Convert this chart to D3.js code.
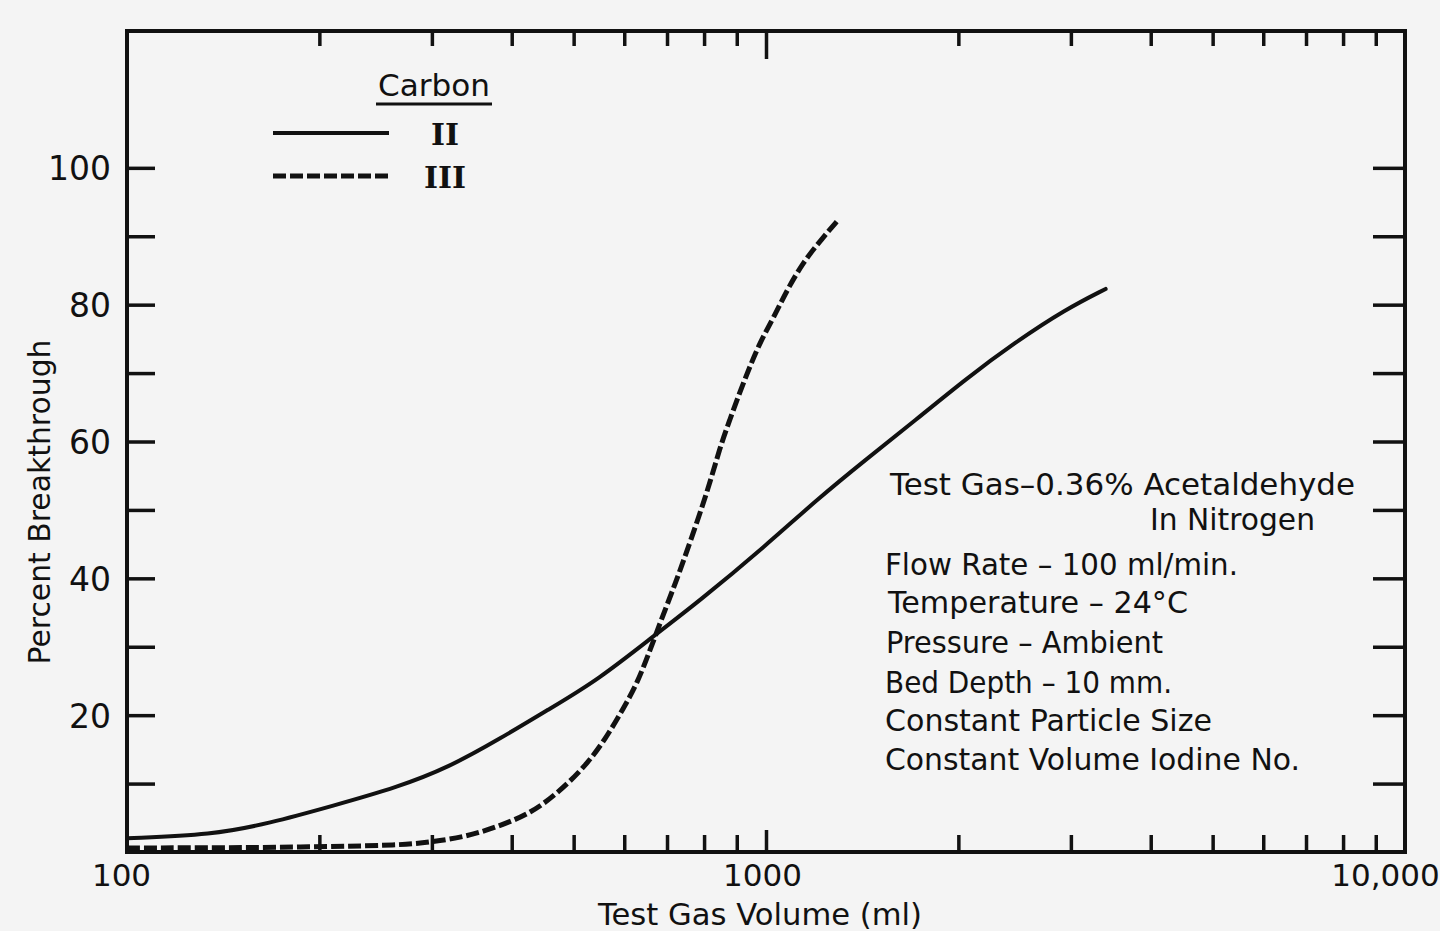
<!DOCTYPE html>
<html>
<head>
<meta charset="utf-8">
<script src="https://cdn.jsdelivr.net/npm/d3@7"></script>
<style>
  body { margin: 0; background: #f4f4f4; }
  svg { display: block; }
  text { font-family: "DejaVu Sans", sans-serif; fill: #111; }
</style>
</head>
<body>
<svg id="chart" width="1440" height="931"></svg>
<script>
// carbon II (solid) and carbon III (dashed)
var volumeII = [100, 136, 167, 209, 266, 319, 381, 456, 545, 676, 780, 1000, 1201, 1435, 1718, 2051, 2455, 2940, 3400];
var breakII = [2.0, 2.5, 4.2, 6.7, 9.5, 12.4, 16.4, 20.8, 25.1, 32.0, 36.4, 44.8, 51.5, 57.4, 63.2, 69.1, 74.5, 79.3, 82.3];

var volumeIII = [100, 130, 186, 273, 300, 338, 381, 429, 472, 520, 560, 600, 629, 659, 683, 718, 744, 809, 848, 878, 910, 944, 979, 1030, 1081, 1144, 1210, 1300];
var breakIII = [0.6, 0.6, 0.7, 1.0, 1.5, 2.2, 3.7, 5.7, 8.6, 12.4, 16.4, 21.2, 24.7, 29.6, 33.5, 38.8, 42.7, 52.5, 59.3, 63.2, 67.2, 71.0, 74.5, 78.3, 82.3, 86.2, 89.1, 92.5];

var xMinorTicks = [200, 300, 400, 500, 600, 700, 800, 900, 1000, 2000, 3000, 4000, 5000, 6000, 7000, 8000, 9000];
var xLabelTicks = [100, 1000, 10000];
var xLabelText = ["100", "1000", "10,000"];
var yTicks = [10, 20, 30, 40, 50, 60, 70, 80, 90, 100];

var legendNames = ["II", "III"];

var notes = [
  "Test Gas\u20130.36% Acetaldehyde",
  "In Nitrogen",
  "Flow Rate \u2013 100 ml/min.",
  "Temperature \u2013 24\u00b0C",
  "Pressure \u2013 Ambient",
  "Bed Depth \u2013 10 mm.",
  "Constant Particle Size",
  "Constant Volume Iodine No."
];

var svg = d3.select("#chart");
var plotLeft = 127, plotRight = 1405, plotTop = 31, plotBottom = 852;

var x = d3.scaleLog().domain([100, 10000]).range([plotLeft, plotRight]);
var y = d3.scaleLinear().domain([0, 120]).range([plotBottom, plotTop]);

var ink = "#111";

// frame
svg.append("rect")
  .attr("x", plotLeft).attr("y", plotTop)
  .attr("width", plotRight - plotLeft).attr("height", plotBottom - plotTop)
  .attr("fill", "none").attr("stroke", ink).attr("stroke-width", 4);

drawAxes = () => {
  var leftAxis = svg.append("g")
    .attr("transform", `translate(${plotLeft},0)`)
    .call(d3.axisLeft(y).tickValues(yTicks).tickSize(-28).tickPadding(16)
      .tickFormat((d) => (d % 20 === 0 ? d : "")));
  leftAxis.selectAll("text").style("font-size", "33px").attr("dy", "0.36em");

  svg.append("g")
    .attr("transform", `translate(${plotRight},0)`)
    .call(d3.axisRight(y).tickValues(yTicks).tickSize(-32).tickFormat(""));

  svg.append("g")
    .attr("transform", `translate(0,${plotTop})`)
    .call(d3.axisTop(x).tickValues(xMinorTicks)
      .tickSize(-15).tickFormat(""))
    .selectAll(".tick line")
    .attr("y2", (d) => (d === 1000 ? 28 : 15));

  svg.append("g")
    .attr("transform", `translate(0,${plotBottom})`)
    .call(d3.axisBottom(x).tickValues(xMinorTicks)
      .tickSize(-17).tickFormat(""))
    .selectAll(".tick line")
    .attr("y2", (d) => (d === 1000 ? -22 : -17));

  var labels = svg.append("g")
    .attr("transform", `translate(0,${plotBottom})`)
    .call(d3.axisBottom(x).tickValues(xLabelTicks).tickSize(0).tickPadding(12)
      .tickFormat((d, i) => xLabelText[i]));
  labels.selectAll("text").style("font-size", "31px")
    .attr("dx", (d) => (d === 100 ? -6 : d === 10000 ? -20 : -4));

  svg.selectAll(".domain").remove();
  svg.selectAll(".tick line").attr("stroke", ink).attr("stroke-width", 3.5);
  svg.selectAll(".tick text").attr("fill", ink).style("font-family", "DejaVu Sans, sans-serif");

  svg.append("text")
    .attr("x", 760).attr("y", 925)
    .attr("text-anchor", "middle")
    .attr("textLength", 324).attr("lengthAdjust", "spacingAndGlyphs")
    .style("font-size", "30px")
    .text("Test Gas Volume (ml)");

  svg.append("text")
    .attr("transform", "translate(50,502) rotate(-90)")
    .attr("text-anchor", "middle")
    .attr("textLength", 325).attr("lengthAdjust", "spacingAndGlyphs")
    .style("font-size", "30px")
    .text("Percent Breakthrough");
};

drawCurves = () => {
  var line = d3.line()
    .x((d) => x(d[0]))
    .y((d) => y(d[1]))
    .curve(d3.curveBasis);

  svg.append("path")
    .datum(d3.zip(volumeII, breakII))
    .attr("d", line)
    .attr("fill", "none").attr("stroke", ink)
    .attr("stroke-width", 4).attr("stroke-linecap", "round");

  svg.append("path")
    .datum(d3.zip(volumeIII, breakIII))
    .attr("d", line)
    .attr("fill", "none").attr("stroke", ink)
    .attr("stroke-width", 5)
    .attr("stroke-dasharray", "13,4");
};

drawLegend = () => {
  var g = svg.append("g");
  g.append("text")
    .attr("x", 434).attr("y", 96)
    .attr("text-anchor", "middle")
    .attr("textLength", 112).attr("lengthAdjust", "spacingAndGlyphs")
    .style("font-size", "31px")
    .text("Carbon");
  g.append("line")
    .attr("x1", 376).attr("x2", 492).attr("y1", 104).attr("y2", 104)
    .attr("stroke", ink).attr("stroke-width", 3);

  legendNames.forEach((name, i) => {
    var ly = 133 + i * 43;
    g.append("line")
      .attr("x1", 273).attr("x2", 389).attr("y1", ly).attr("y2", ly)
      .attr("stroke", ink).attr("stroke-width", i === 0 ? 4 : 5)
      .attr("stroke-dasharray", i === 0 ? null : "13,4");
    g.append("text")
      .attr("x", 445).attr("y", ly + 12)
      .attr("text-anchor", "middle")
      .style("font-family", "DejaVu Serif, serif")
      .style("font-weight", "bold")
      .style("font-size", "30px")
      .text(name);
  });
};

drawNotes = () => {
  var noteX = [890, 1150, 885, 888, 886, 885, 885, 885];
  var noteW = [465, 165, 353, 300, 277, 287, 327, 415];
  var noteY = [495, 530, 575, 613, 653, 693, 731, 770];
  var g = svg.append("g");
  notes.forEach((t, i) => {
    g.append("text")
      .attr("x", noteX[i]).attr("y", noteY[i])
      .attr("textLength", noteW[i]).attr("lengthAdjust", "spacingAndGlyphs")
      .style("font-size", "30px")
      .text(t);
  });
};

drawAxes();
drawCurves();
drawLegend();
drawNotes();
</script>
</body>
</html>
